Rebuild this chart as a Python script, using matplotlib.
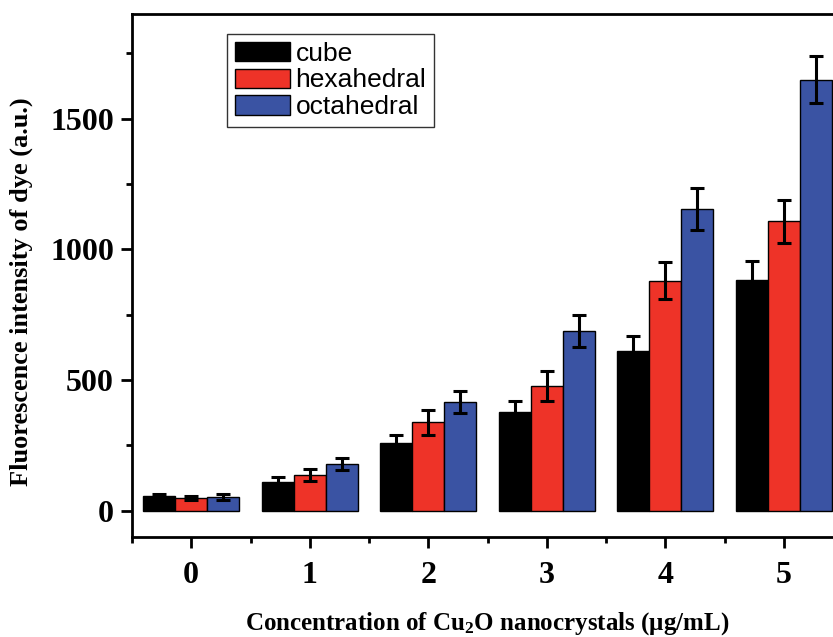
import numpy as np
import matplotlib
matplotlib.use("Agg")
import matplotlib.pyplot as plt
from matplotlib.ticker import MultipleLocator

plt.rcParams["mathtext.fontset"] = "custom"
plt.rcParams["mathtext.bf"] = "Liberation Serif:bold"
plt.rcParams["mathtext.rm"] = "Liberation Serif:bold"
plt.rcParams["mathtext.default"] = "bf"

# concentration (ug/mL) and fluorescence intensity of dye
conc = ["0", "1", "2", "3", "4", "5"]
cube = [55, 110, 260, 379, 610, 881]
cube_err = [11, 19, 31, 41, 60, 75]
hexa = [49, 137, 339, 477, 880, 1107]
hexa_err = [9, 23, 48, 57, 70, 83]
octa = [52, 179, 417, 688, 1155, 1649]
octa_err = [11, 23, 41, 61, 80, 89]

W, H = 833, 637
fig = plt.figure(figsize=(W / 100, H / 100), dpi=100)
# the original is cropped on the right, so the axes run a bit past the figure edge
ax = fig.add_axes([132 / W, 100 / H, 711 / W, 523 / H])

x = np.arange(len(conc))
w = 0.27
err_kw = dict(ecolor="black", elinewidth=2.2, capsize=4.7, capthick=2.2)
ax.bar(x - w, cube, w, yerr=cube_err, color="black", edgecolor="black",
       linewidth=1, label="cube", error_kw=err_kw)
ax.bar(x, hexa, w, yerr=hexa_err, color="#EE3328", edgecolor="black",
       linewidth=1, label="hexahedral", error_kw=err_kw)
ax.bar(x + w, octa, w, yerr=octa_err, color="#3A53A3", edgecolor="black",
       linewidth=1, label="octahedral", error_kw=err_kw)

ax.set_xlim(-0.5, 5.5)
ax.set_ylim(-100, 1900)
ax.set_xticks(x)
ax.set_xticklabels(conc)
ax.xaxis.set_minor_locator(MultipleLocator(1, offset=0.5))
ax.yaxis.set_major_locator(MultipleLocator(500))
ax.yaxis.set_minor_locator(MultipleLocator(250))

for s in ax.spines.values():
    s.set_linewidth(2)
ax.tick_params(which="major", direction="out", length=8, width=2, pad=5)
ax.tick_params(which="minor", direction="out", length=4.5, width=2)
ax.tick_params(axis="x", which="major", pad=9)

for lab in ax.get_xticklabels() + ax.get_yticklabels():
    lab.set_fontfamily("Liberation Serif")
    lab.set_fontweight("bold")
    lab.set_fontsize(23)

ax.set_ylabel("Fluorescence intensity of dye (a.u.)", family="Liberation Serif",
              weight="bold", size=19)
ax.yaxis.set_label_coords(-0.139, 0.47)
ax.set_xlabel("Concentration of Cu$_2$O nanocrystals (μg/mL)",
              family="Liberation Serif", weight="bold", size=18)
ax.xaxis.set_label_coords(0.5, -0.14)

leg = ax.legend(loc="upper left", bbox_to_anchor=(0.1336, 0.962),
                prop=dict(family="Liberation Sans", size=19), frameon=True,
                fancybox=False, edgecolor="black", handlelength=2.1,
                handleheight=0.75, labelspacing=0.1, borderpad=0.3,
                handletextpad=0.2, borderaxespad=0)
leg.get_frame().set_linewidth(1)

fig.savefig("out.png", dpi=100)
